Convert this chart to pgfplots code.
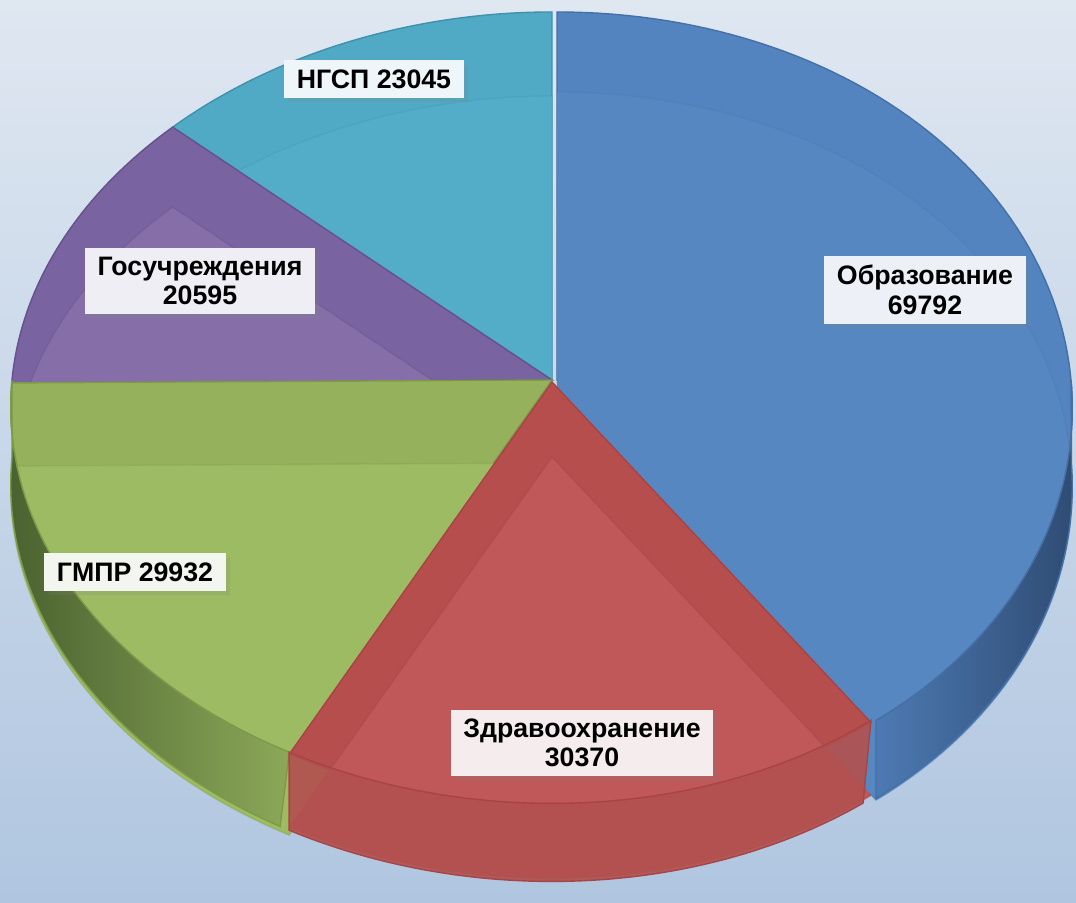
\documentclass[border=0pt]{standalone}
\usepackage{fontspec}
\setmainfont{Liberation Sans}
\usepackage{pgfplots}
\pgfplotsset{compat=1.18}
\usepackage{pgfplotstable}
\usetikzlibrary{shadows}

\definecolor{bgTop}{HTML}{DFE7F1}
\definecolor{bgBot}{HTML}{B0C6E0}
\definecolor{bluA}{HTML}{5484BF}
\definecolor{bluB}{HTML}{5787C1}
\definecolor{bluE}{HTML}{4470A6}
\definecolor{bluSL}{HTML}{4D7AB3}
\definecolor{bluSR}{HTML}{2F4C74}
\definecolor{redA}{HTML}{B54E4D}
\definecolor{redB}{HTML}{C05758}
\definecolor{redE}{HTML}{A84444}
\definecolor{redS}{HTML}{B25150}
\definecolor{grnA}{HTML}{96B15B}
\definecolor{grnB}{HTML}{9DBB63}
\definecolor{grnE}{HTML}{7E9A48}
\definecolor{grnSL}{HTML}{4A6230}
\definecolor{grnSR}{HTML}{8CA858}
\definecolor{purA}{HTML}{7963A0}
\definecolor{purB}{HTML}{866FA8}
\definecolor{purE}{HTML}{65518C}
\definecolor{cyaA}{HTML}{50A9C5}
\definecolor{cyaB}{HTML}{54ADC8}
\definecolor{cyaE}{HTML}{3E92AB}
\definecolor{lbBlu}{HTML}{EDF1F7}
\definecolor{lbRed}{HTML}{F5EDED}
\definecolor{lbGrn}{HTML}{F3F5EF}
\definecolor{lbPur}{HTML}{EFEEF4}
\definecolor{lbCya}{HTML}{EEF6F9}

\pgfplotstableread{
value
69792
30370
29932
20595
23045
}\piedata
\pgfplotstablegetelem{0}{value}\of\piedata \edef\vA{\pgfplotsretval}
\pgfplotstablegetelem{1}{value}\of\piedata \edef\vB{\pgfplotsretval}
\pgfplotstablegetelem{2}{value}\of\piedata \edef\vC{\pgfplotsretval}
\pgfplotstablegetelem{3}{value}\of\piedata \edef\vD{\pgfplotsretval}
\pgfplotstablegetelem{4}{value}\of\piedata \edef\vE{\pgfplotsretval}
\edef\tot{\fpeval{\vA+\vB+\vC+\vD+\vE}}
\edef\tA{90}
\edef\tB{\fpeval{round(90-360*\vA/\tot,4)}}
\edef\tC{\fpeval{round(\tB-360*\vB/\tot,4)}}
\edef\tD{\fpeval{round(\tC-360*\vC/\tot,4)}}
\edef\tE{\fpeval{round(\tD-360*\vD/\tot,4)}}
\edef\tF{-270}

% top face of a slice: colour, edge colour, tmin, tmax, x offset, y offset, apex x, apex y
\newcommand{\pieface}[8]{%
  \addplot[fill=#1, draw=#2, line width=0.4pt, domain=#3:#4, samples=90, variable=\t]
    ({PX(\t)+#5},{PY(\t)+#6}) -- (axis cs:#7,#8) -- cycle;}
% side band of a slice: tmin, tmax, x offset, style
\newcommand{\pieside}[4]{%
  \addplot[#4, line width=0.4pt, domain=0:2, samples=121, variable=\s]
    ({PX(TT(\s,#1,#2))+#3},{PY(TT(\s,#1,#2))+78*(\s>1)}) -- cycle;}

\tikzset{lbl/.style={font=\fontsize{7.6}{8.4}\selectfont\bfseries, text=black,
  align=center, inner xsep=3.6pt, inner ysep=2.6pt,
  drop shadow={opacity=0.18, shadow xshift=1.2pt, shadow yshift=-1.2pt}}}

\begin{document}
\begin{tikzpicture}
\begin{axis}[
  scale only axis, width=10.76cm, height=9.03cm,
  xmin=0, xmax=1076, ymin=0, ymax=903, y dir=reverse,
  axis lines=none, ticks=none, clip=false,
  declare function={
    PX(\t)=552+cos(\t)*(527-13*cos(\t))/(1+0.07*sin(\t));
    PY(\t)=380-393.8*sin(\t)/(1+0.07*sin(\t));
    TT(\s,\a,\b)=\a+(\b-\a)*min(\s,2-\s);
  }]
% background
\addplot[draw=none, top color=bgTop, bottom color=bgBot]
  coordinates {(0,0) (1076,0) (1076,903) (0,903)} -- cycle;

% cyan
\pieface{cyaA}{cyaE}{\tF}{\tE}{0}{0}{552}{380}
\addplot[fill=cyaB, draw=cyaE, draw opacity=0.25, line width=0.4pt, domain=\tF:\tE, samples=90, variable=\t]
  ({PX(\t)},{PY(\t)+84}) -- (axis cs:552,464) -- cycle;
% purple
\pieface{purA}{purE}{\tE}{\tD}{0}{0}{552}{380}
\addplot[fill=purB, draw=purE, draw opacity=0.35, line width=0.4pt, domain=\tE:\tD, samples=90, variable=\t]
  ({PX(\t)},{PY(\t)+80}) -- (axis cs:552,460) -- cycle;
% blue
\pieface{bluA}{bluE}{\tB}{\tA}{5}{0}{557}{380}
\addplot[fill=bluB, draw=bluE, draw opacity=0.2, line width=0.4pt, domain=\tB:\tA, samples=90, variable=\t]
  ({PX(\t)+5},{PY(\t)+80}) -- (axis cs:557,460) -- cycle;
% green
\pieface{grnA}{grnE}{\tD}{\tC}{0}{0}{552}{380}
\addplot[fill=grnB, draw=grnE, draw opacity=0.3, line width=0.4pt, domain=\tD:\tC, samples=90, variable=\t]
  ({PX(\t)},{PY(\t)+83}) -- (axis cs:552,463) -- cycle;
% red
\pieface{redA}{redE}{\tC}{\tB}{0}{2}{552}{382}
\addplot[fill=redB, draw=redE, draw opacity=0.4, line width=0.4pt, domain=\tC:\tB, samples=90, variable=\t]
  ({PX(\t)},{PY(\t)+75}) -- (axis cs:552,457) -- cycle;

% sides
\pieside{\tB}{0}{5}{left color=bluSL, right color=bluSR, draw=bluE}
\pieside{-180}{\tC}{0}{left color=grnSL, right color=grnSR, draw=grnE}
\pieside{\tC}{\tB}{0}{fill=redS, fill opacity=0.92, draw=redE}

% labels
\node[lbl, fill=lbBlu] at (axis cs:925,290) {Образование\\69792};
\node[lbl, fill=lbRed] at (axis cs:582,743) {Здравоохранение\\30370};
\node[lbl, fill=lbGrn] at (axis cs:135,572) {ГМПР 29932};
\node[lbl, fill=lbPur] at (axis cs:200,281) {Госучреждения\\20595};
\node[lbl, fill=lbCya] at (axis cs:374,79) {НГСП 23045};
\end{axis}
\end{tikzpicture}
\end{document}
